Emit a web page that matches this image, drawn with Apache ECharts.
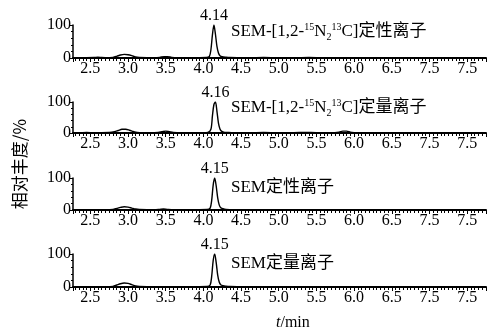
<!DOCTYPE html>
<html><head><meta charset="utf-8">
<script src="https://cdn.jsdelivr.net/npm/echarts@6/dist/echarts.min.js"></script>
<style>html,body{margin:0;padding:0;background:#fff}#c{width:487px;height:335px}</style>
</head><body><div id="c"></div>
<script>
// ---- data ----
const tickValues = [2.5, 3.0, 3.5, 4.0, 4.5, 5.0, 5.5, 6.0, 6.5, 7.0, 7.5];
const tickLabels = ['2.5','3.0','3.5','4.0','4.5','5.0','5.5','6.0','6.5','7.5','7.5'];
const yTickLabels = ['0','100'];
const peakLabels = ['4.14','4.16','4.15','4.15'];
const ionNames = [
  'SEM-[1,2-{sup|15}N{sub|2}{sup|13}C]定性离子',
  'SEM-[1,2-{sup|15}N{sub|2}{sup|13}C]定量离子',
  'SEM定性离子',
  'SEM定量离子'
];
const yTitle = '相对丰度/%';
const xTitle = '{i|t}/min';

const t1 = [2.27,2.35,2.45,2.55,2.6,2.65,2.7,2.8,2.85,2.9,2.95,3.0,3.05,3.1,3.15,3.25,3.35,3.42,3.48,3.52,3.58,3.65,3.8,3.95,4.04,4.08,4.1,4.12,4.14,4.16,4.18,4.2,4.22,4.25,4.3,4.35,4.45,4.6,4.8,5.0,5.2,5.4,5.6,5.8,6.0];
const y1 = [1,1,1,1.5,2.5,1.5,1,2,5,9,11,10,7,3,1.5,1,1,2,4,4,2,1,1,1,1.5,5,25,70,100,72,35,15,7,4,2.5,1.5,1,1,1.5,1,1,1.5,1,1,1];
const t2 = [2.27,2.35,2.45,2.55,2.65,2.75,2.82,2.87,2.92,2.97,3.02,3.07,3.12,3.2,3.3,3.4,3.45,3.5,3.55,3.6,3.7,3.85,4.0,4.06,4.1,4.12,4.14,4.16,4.18,4.2,4.22,4.24,4.27,4.32,4.4,4.6,4.8,5.0,5.2,5.35,5.5,5.7,5.8,5.85,5.9,5.95,6.0];
const y2 = [1,1,1.5,1,1,1.5,4,8,12,12,9,5,2,1,1,2,4,6,4,2,1,1,1,2,12,55,92,100,70,32,13,6,3,2,1,1,1.5,1,1,2,1,1,3,6,6,3,1];
const t3 = [2.27,2.4,2.55,2.7,2.8,2.85,2.9,2.95,3.0,3.05,3.1,3.15,3.25,3.35,3.42,3.47,3.52,3.6,3.8,3.95,4.05,4.09,4.11,4.13,4.15,4.17,4.19,4.21,4.23,4.26,4.3,4.4,4.6,4.8,5.0,5.3,5.6,6.0];
const y3 = [1,1,1,1,2,5,8,10,9,6,3,1.5,1,1,2,3,2,1,1,1,1.5,6,30,78,100,75,38,16,7,4,2,1,1,1,1,1,1,1];
const t4 = [2.27,2.4,2.55,2.7,2.8,2.85,2.9,2.95,3.0,3.05,3.1,3.15,3.25,3.4,3.6,3.8,3.95,4.05,4.09,4.11,4.13,4.15,4.17,4.19,4.21,4.23,4.26,4.3,4.35,4.45,4.6,4.8,5.0,5.3,5.6,6.0];
const y4 = [1,1,1,1,2,6,10,12,11,7,3,1.5,1,1,1,1,1,1.5,6,32,80,100,74,36,15,7,4,2.5,1.5,1,1,1,1,1,1,1];

const times = [t1,t2,t3,t4];
const values = [y1,y2,y3,y4];

// ---- layout ----
const serif = '"Liberation Serif","Noto Sans CJK SC",serif';
const tops = [25, 102, 178, 254];
const heights = [33, 31, 32, 33];
const ionTops = [22, 98, 178, 254];

function xfmt(v){
  const i = tickValues.findIndex(t => Math.abs(t - v) < 1e-6);
  return i >= 0 ? tickLabels[i] : '';
}

const grids = [], xAxes = [], yAxes = [], series = [], titles = [];
for (let k = 0; k < 4; k++) {
  grids.push({left: 73, right: 1, top: tops[k], height: heights[k]});
  xAxes.push({
    type: 'value', gridIndex: k, min: 2.27, max: 7.75, splitNumber: 11,
    axisLine: {lineStyle: {color: '#000', width: 2}},
    axisTick: {show: true, length: 4, lineStyle: {color: '#000', width: 1}},
    minorTick: {show: true, splitNumber: 10, length: 3, lineStyle: {color: '#000', width: 1}},
    splitLine: {show: false},
    axisLabel: {color: '#000', fontSize: 16, fontFamily: serif, margin: 3,
      showMinLabel: false, showMaxLabel: false, formatter: xfmt}
  });
  yAxes.push({
    type: 'value', gridIndex: k, min: 0, max: 100, interval: 100,
    axisLine: {show: true, lineStyle: {color: '#000', width: 1.5}},
    axisTick: {show: true, length: 4, lineStyle: {color: '#000'}},
    minorTick: {show: true, splitNumber: 5, length: 2, lineStyle: {color: '#000'}},
    splitLine: {show: false},
    axisLabel: {color: '#000', fontSize: 16, fontFamily: serif, margin: 2,
      formatter: v => v === 0 ? yTickLabels[0] : yTickLabels[1]}
  });
  series.push({
    type: 'line', xAxisIndex: k, yAxisIndex: k, symbol: 'none', smooth: 0.3,
    lineStyle: {color: '#000', width: 1.4},
    data: times[k].map((t, i) => [t, values[k][i]]),
    markPoint: {
      symbol: 'circle', symbolSize: 0,
      data: [{type: 'max'}],
      label: {show: true, position: 'top', distance: 1, color: '#000', fontSize: 16,
        fontFamily: serif, formatter: () => peakLabels[k]}
    }
  });
  titles.push({
    text: ionNames[k], left: 231, top: ionTops[k], padding: 0,
    textStyle: {color: '#000', fontSize: 17, fontWeight: 'normal', fontFamily: serif, lineHeight: 20,
      rich: {
        sup: {fontSize: 10, fontFamily: serif, color: '#000', verticalAlign: 'top', lineHeight: 11},
        sub: {fontSize: 10, fontFamily: serif, color: '#000', verticalAlign: 'bottom', lineHeight: 11}
      }}
  });
}
titles.push({
  text: xTitle, left: 276, top: 315, padding: 0,
  textStyle: {color: '#000', fontSize: 16, fontWeight: 'normal', fontFamily: serif,
    rich: {i: {fontStyle: 'italic', fontSize: 16, fontFamily: serif, color: '#000'}}}
});

const chart = echarts.init(document.getElementById('c'), null, {renderer: 'canvas'});
chart.setOption({
  animation: false,
  backgroundColor: '#fff',
  title: titles,
  grid: grids, xAxis: xAxes, yAxis: yAxes, series: series,
  graphic: [{
    type: 'text', x: 20, y: 164, rotation: Math.PI / 2,
    style: {text: yTitle, fill: '#000', fontSize: 17, fontFamily: '"Noto Sans CJK SC",serif',
      align: 'center', verticalAlign: 'middle'}
  }]
});
</script></body></html>
